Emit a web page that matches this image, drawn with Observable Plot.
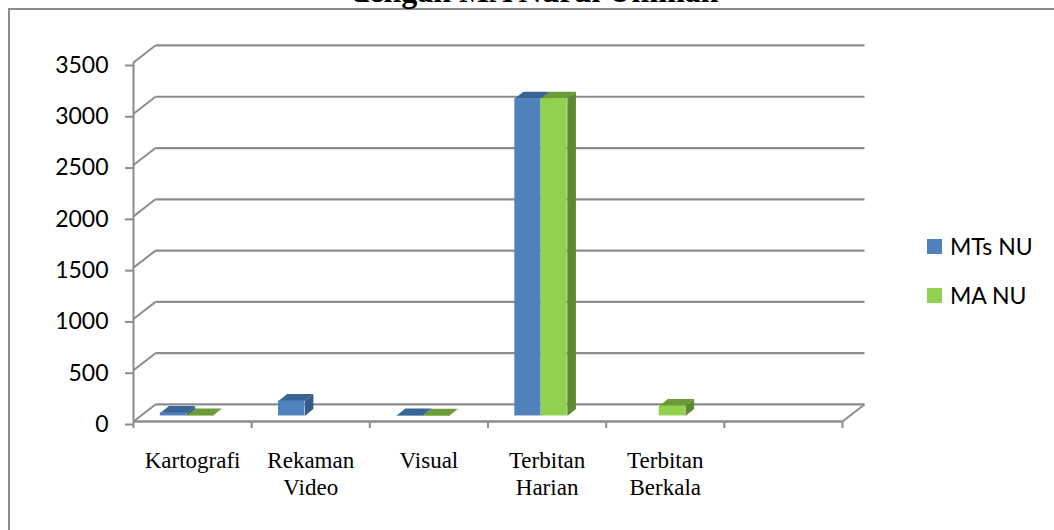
<!DOCTYPE html>
<html>
<head>
<meta charset="utf-8">
<script src="https://cdn.jsdelivr.net/npm/d3@7"></script>
<script src="https://cdn.jsdelivr.net/npm/@observablehq/plot@0.6"></script>
<style>
  html, body { margin: 0; padding: 0; background: #fff; overflow: hidden; }
  #chart { position: relative; width: 1054px; height: 530px; overflow: hidden; }
  #title { position: absolute; left: 8px; width: 1054px; top: -27px; text-align: center;
           font: bold 32px/37px "Liberation Serif", serif; color: #000; white-space: nowrap; }
  #frame { position: absolute; left: 8px; top: 8px; right: -4px; bottom: -4px;
           border: 2px solid #8c8c8c; box-sizing: border-box; }
  svg { position: absolute; left: 0; top: 0; }
</style>
</head>
<body>
<div id="chart"><div id="frame"></div><div id="title">dengan MA Nurul Ummah</div></div>
<script>
const categories = ["Kartografi", "Rekaman\nVideo", "Visual", "Terbitan\nHarian", "Terbitan\nBerkala", ""];
const seriesNames = ["MTs NU", "MA NU"];
const mtsValues = [30, 146, 4, 3094, 0, null];
const maValues = [4, 0, 3, 3094, 97, null];
const yTicks = [0, 500, 1000, 1500, 2000, 2500, 3000, 3500];

// Oblique projection of the chart's depth, expressed in the units of each scale.
const wallDx = 0.186, wallDy = 166;   // back wall offset
const barDx = 0.073, barDy = 68;      // bar depth
const floorDy = 54;                   // bars stand this far up the floor
const barStart = 0.227, barWidth = 0.222;

const palette = {
  "MTs NU": {front: "#4f81bd", top: "#3a6496", side: "#355a88"},
  "MA NU": {front: "#92d050", top: "#6a9a3a", side: "#5e8a32"}
};
const grey = "#8c8c8c";

const bars = [];
seriesNames.forEach((name, s) => {
  const values = s === 0 ? mtsValues : maValues;
  values.forEach((v, i) => {
    if (v) bars.push({series: name, x1: i + barStart + s * barWidth, x2: i + barStart + (s + 1) * barWidth, value: v, id: `${name}-${i}`});
  });
});

function topFace(b) {
  const y = floorDy + b.value;
  return [[b.x1, y], [b.x2, y], [b.x2 + barDx, y + barDy], [b.x1 + barDx, y + barDy]].map(([x, y]) => ({x, y, id: b.id}));
}
function sideFace(b) {
  const y0 = floorDy, y = floorDy + b.value;
  return [[b.x2, y0], [b.x2, y], [b.x2 + barDx, y + barDy], [b.x2 + barDx, y0 + barDy]].map(([x, y]) => ({x, y, id: b.id}));
}
const faceMarks = name => {
  const own = bars.filter(b => b.series === name);
  return [
    Plot.line(own.flatMap(sideFace), {x: "x", y: "y", z: "id", fill: palette[name].side, stroke: null}),
    Plot.line(own.flatMap(topFace), {x: "x", y: "y", z: "id", fill: palette[name].top, stroke: null}),
    Plot.rectY(own, {x1: "x1", x2: "x2", y1: floorDy, y2: d => floorDy + d.value, fill: palette[name].front})
  ];
};

// Walls: floor edge, slanted connectors and back grid lines.
const gridLines = yTicks.map(t => ({t}));
const chart = Plot.plot({
  width: 1054,
  height: 530,
  marginLeft: 133,
  marginRight: 212,
  marginTop: 62,
  marginBottom: 109,
  x: {domain: [0, 6], axis: null},
  y: {domain: [0, 3500], axis: null},
  style: {background: "transparent"},
  marks: [
    Plot.ruleX([0], {y1: 0, y2: 3500, stroke: grey, strokeWidth: 2}),
    Plot.ruleY([0], {x1: 0, x2: 6, stroke: grey, strokeWidth: 2.5}),
    Plot.link(gridLines, {x1: 0, y1: "t", x2: wallDx, y2: d => d.t + wallDy, stroke: grey, strokeWidth: 2}),
    Plot.link([{}], {x1: 6, y1: 0, x2: 6 + wallDx, y2: wallDy, stroke: grey, strokeWidth: 2}),
    Plot.link(gridLines, {x1: wallDx, x2: 6 + wallDx, y1: d => d.t + wallDy, y2: d => d.t + wallDy, stroke: grey, strokeWidth: 2.2}),
    Plot.axisY({
      ticks: yTicks, tickSize: 8, tickPadding: 17, stroke: grey, strokeWidth: 2, fill: "#000",
      tickFormat: d => String(d), fontSize: 23, fontFamily: "Lato", label: null, dy: 3
    }),
    Plot.axisX({
      ticks: d3.range(7), tickSize: 7, stroke: grey, strokeWidth: 2, tickFormat: () => "", label: null
    }),
    ...faceMarks("MTs NU"),
    ...faceMarks("MA NU"),
    Plot.text(categories.map((c, i) => ({c, x: i + 0.5})), {
      x: "x", y: 0, text: "c", dy: 28, lineAnchor: "top", lineHeight: 1.16, textAnchor: "middle",
      fontFamily: "Liberation Serif", fontSize: 23, fill: "#000"
    })
  ]
});
document.getElementById("chart").appendChild(chart);

// Legend beside the plot: swatches coloured like the bar fronts.
const legend = d3.select(chart).append("g")
  .attr("font-family", "Lato").attr("font-size", 23).attr("text-anchor", "start");
seriesNames.forEach((name, i) => {
  const row = legend.append("g").attr("transform", `translate(927,${239 + i * 49})`);
  row.append("rect").attr("width", 15).attr("height", 15).attr("fill", palette[name].front);
  row.append("text").attr("x", 23).attr("y", 16).attr("fill", "#000").text(name);
});
</script>
</body>
</html>
